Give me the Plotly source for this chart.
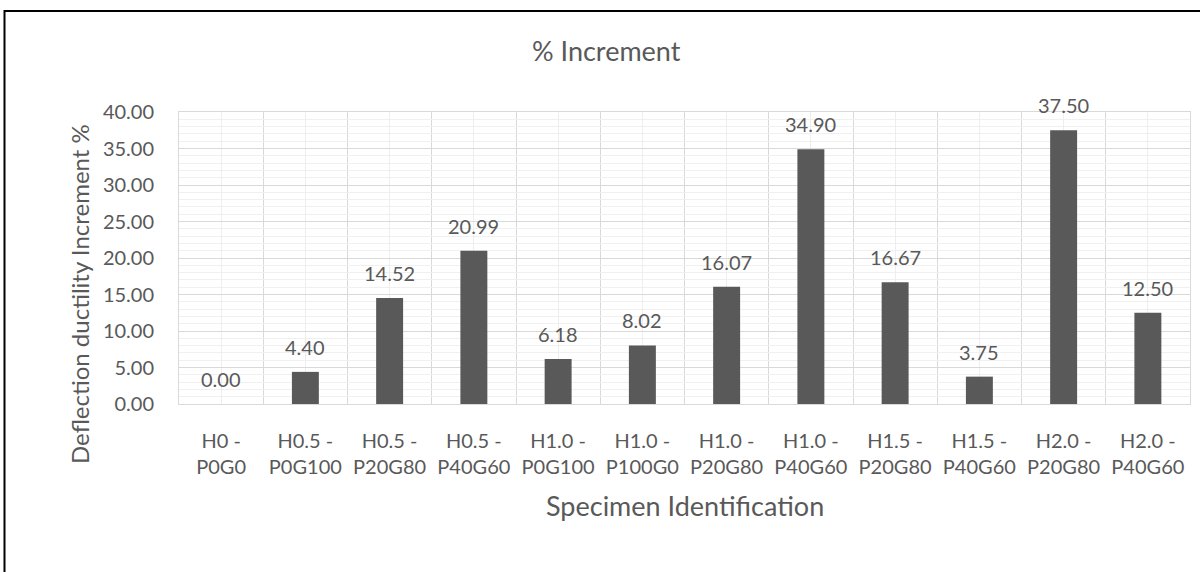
import plotly.graph_objects as go

# Specimens and their deflection ductility increment (%)
specimens = [
    "H0 -<br>P0G0", "H0.5 -<br>P0G100", "H0.5 -<br>P20G80", "H0.5 -<br>P40G60",
    "H1.0 -<br>P0G100", "H1.0 -<br>P100G0", "H1.0 -<br>P20G80", "H1.0 -<br>P40G60",
    "H1.5 -<br>P20G80", "H1.5 -<br>P40G60", "H2.0 -<br>P20G80", "H2.0 -<br>P40G60",
]
increment = [0.00, 4.40, 14.52, 20.99, 6.18, 8.02, 16.07, 34.90, 16.67, 3.75, 37.50, 12.50]
y_ticks = [0, 5, 10, 15, 20, 25, 30, 35, 40]

FONT = "Lato"
TEXT = "#595959"
positions = list(range(len(specimens)))

# plot-area geometry in pixels (used to place titles and the outer frame)
W, H = 1200, 572
L, R, T, B = 179, 10, 112, 168
pw, ph = W - L - R, H - T - B


def px_x(p):
    return (p - L) / pw


def px_y(p):
    return (H - B - p) / ph


fig = go.Figure(
    go.Bar(
        x=positions,
        y=increment,
        width=0.32,
        marker=dict(color="#595959", line=dict(width=0)),
        hoverinfo="skip",
    )
)

# value labels above each bar
for xi, v in zip(positions, increment):
    fig.add_annotation(
        x=xi, y=v, xref="x", yref="y",
        text=f"{v:.2f}", showarrow=False,
        yanchor="middle", yshift=25,
        font=dict(family=FONT, size=20, color=TEXT),
    )

# chart title and axis titles
fig.add_annotation(
    x=px_x(606), y=px_y(50), xref="paper", yref="paper",
    text="% Increment", showarrow=False, xanchor="center", yanchor="middle",
    font=dict(family=FONT, size=27, color=TEXT),
)
fig.add_annotation(
    x=0.5, y=px_y(505), xref="paper", yref="paper",
    text="Specimen Identification", showarrow=False, xanchor="center", yanchor="middle",
    font=dict(family=FONT, size=27, color=TEXT),
)
fig.add_annotation(
    x=px_x(79), y=px_y(294), xref="paper", yref="paper",
    text="Deflection ductility Increment %", showarrow=False, textangle=-90,
    xanchor="center", yanchor="middle",
    font=dict(family=FONT, size=24, color=TEXT),
)

# outer chart frame (extends past the right and bottom edges)
fig.add_shape(
    type="rect", xref="paper", yref="paper",
    x0=px_x(4.5), x1=px_x(1240), y0=px_y(620), y1=px_y(11),
    line=dict(color="#000000", width=2), fillcolor="rgba(0,0,0,0)", layer="above",
)

fig.update_layout(
    width=W, height=H,
    margin=dict(l=L, r=R, t=T, b=B),
    paper_bgcolor="white", plot_bgcolor="white",
    showlegend=False,
    font=dict(family=FONT, color=TEXT),
    xaxis=dict(
        range=[-0.5, len(specimens) - 0.5],
        tickmode="array", tickvals=positions, ticktext=specimens,
        tickfont=dict(family=FONT, size=20, color=TEXT),
        ticks="", ticklabelstandoff=19,
        showgrid=True, gridcolor="#eeeeee", gridwidth=1,
        minor=dict(tickmode="linear", tick0=0.5, dtick=1,
                   showgrid=True, gridcolor="#d9d9d9", gridwidth=1),
        showline=True, linecolor="#d9d9d9", linewidth=1, mirror=True,
        zeroline=False, fixedrange=True,
    ),
    yaxis=dict(
        range=[0, 40],
        tickmode="array", tickvals=y_ticks, tickformat=".2f",
        tickfont=dict(family=FONT, size=20, color=TEXT),
        ticks="", ticklabelstandoff=20,
        showgrid=True, gridcolor="#d9d9d9", gridwidth=1,
        minor=dict(tickmode="linear", tick0=0, dtick=1,
                   showgrid=True, gridcolor="#f0f0f0", gridwidth=1),
        showline=True, linecolor="#d9d9d9", linewidth=1, mirror=True,
        zeroline=False, fixedrange=True,
    ),
)

fig.write_html("out.html", config={"displayModeBar": False})
